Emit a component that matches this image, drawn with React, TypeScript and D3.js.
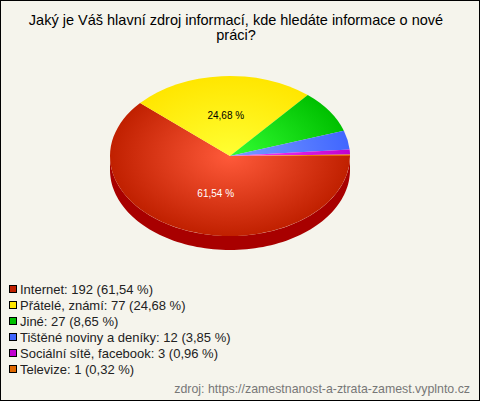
import React from 'react';
import * as d3 from 'd3';

const categories = ['Internet', 'Přátelé, známí', 'Jiné', 'Tištěné noviny a deníky', 'Sociální sítě, facebook', 'Televize'];
const counts = [192, 77, 27, 12, 3, 1];
const percents = ['61,54', '24,68', '8,65', '3,85', '0,96', '0,32'];
const innerColors = ['#ff5a3a', '#ffff33', '#33ff33', '#7b9dff', '#ff44ff', '#ff9933'];
const outerColors = ['#c02000', '#ffe600', '#00c000', '#4066ff', '#c000d0', '#e06800'];
const titleLines = ['Jaký je Váš hlavní zdroj informací, kde hledáte informace o nové', 'práci?'];
const source = 'zdroj: https://zamestnanost-a-ztrata-zamest.vyplnto.cz';

const width = 480;
const height = 401;
const cx = 230;
const cy = 156;
const rx = 120;
const ry = 80;
const depth = 14;
const font = '"Liberation Sans", Arial, sans-serif';

const App: React.FC = () => {
  // pie starts at 3 o'clock and goes clockwise
  const pie = d3.pie<number>().sort(null).startAngle(Math.PI / 2).endAngle(Math.PI * 2.5);
  const slices = pie(counts);
  const arc = d3.arc<d3.PieArcDatum<number>>().innerRadius(0).outerRadius(1);

  const side = d3.area<number>()
    .x(a => cx + rx * Math.cos(a))
    .y0(a => cy + ry * Math.sin(a))
    .y1(a => cy + depth + ry * Math.sin(a));
  const sideAngles = d3.range(0, Math.PI + 0.01, Math.PI / 90);

  const labelPos = (i: number, k: number) => {
    const a = (slices[i].startAngle + slices[i].endAngle) / 2 - Math.PI / 2;
    return [cx + rx * k * Math.cos(a), cy + ry * k * Math.sin(a)];
  };
  const lab0 = labelPos(0, 0.5);
  const lab1 = labelPos(1, 0.5);

  const legendY = d3.scaleLinear().domain([0, categories.length - 1]).range([290, 370]);

  return (
    <svg width={width} height={height} style={{ position: 'absolute', left: 0, top: 0 }} fontFamily={font}>
      <defs>
        {slices.map((d, i) => (
          <radialGradient key={i} id={`grad${i}`} gradientUnits="userSpaceOnUse" cx={0} cy={0} r={1}>
            <stop offset="0%" stopColor={innerColors[i]} />
            <stop offset="100%" stopColor={outerColors[i]} />
          </radialGradient>
        ))}
      </defs>
      <rect x={0.5} y={0.5} width={width - 1} height={height - 1} fill="#f5f4ec" stroke="#000" strokeWidth={1} />

      {titleLines.map((t, i) => (
        <text key={i} x={236} y={25 + i * 15} textAnchor="middle" fontSize={14.5} fill="#000">{t}</text>
      ))}

      <path d={side(sideAngles) || ''} fill="#a80000" />
      <g transform={`translate(${cx},${cy}) scale(${rx},${ry})`}>
        {slices.map((d, i) => (
          <path key={i} d={arc(d) || ''} fill={`url(#grad${i})`} />
        ))}
      </g>

      <text x={lab0[0] + 7} y={lab0[1] + 4} textAnchor="middle" fontSize={10} fill="#fff">{percents[0]} %</text>
      <text x={lab1[0]} y={lab1[1] + 3} textAnchor="middle" fontSize={10} fill="#000">{percents[1]} %</text>

      {categories.map((c, i) => (
        <g key={c} transform={`translate(0,${legendY(i)})`}>
          <rect x={9.5} y={-4.5} width={7} height={7} fill={outerColors[i]} stroke="#000" strokeWidth={1} />
          <text x={20} y={4} fontSize={13} fill="#222">{`${c}: ${counts[i]} (${percents[i]} %)`}</text>
        </g>
      ))}

      <text x={470} y={393} textAnchor="end" fontSize={12.35} fill="#777">{source}</text>
    </svg>
  );
};

export default App;
